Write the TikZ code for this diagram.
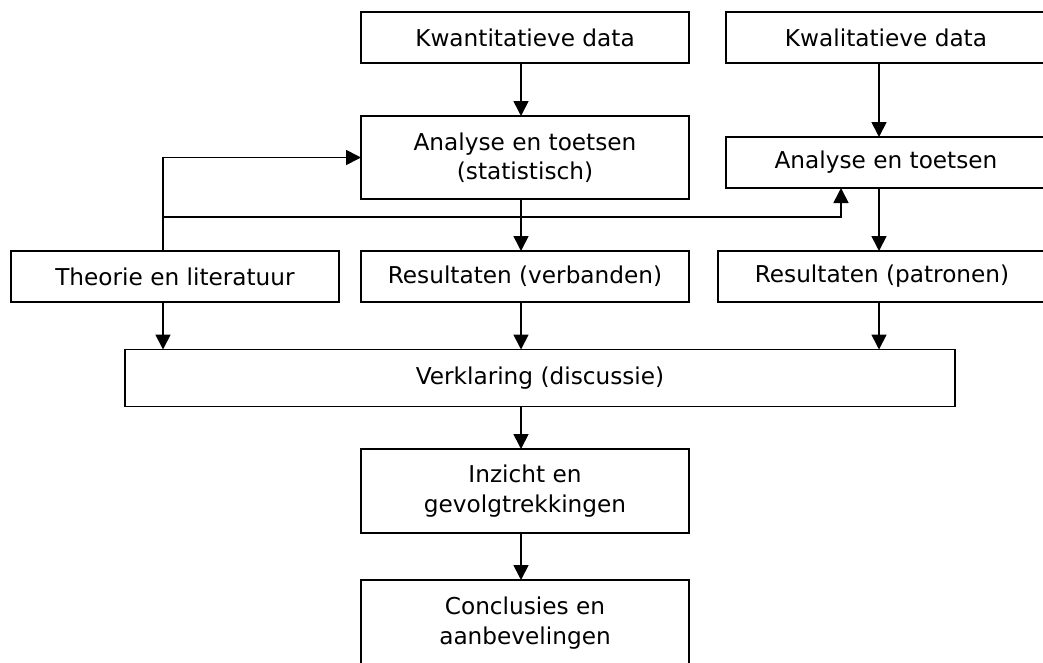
\documentclass[tikz,border=0pt]{standalone}
\usepackage{fontspec}
\setmainfont{DejaVu Sans}
\usetikzlibrary{arrows.meta}
\tikzset{
  flow diagram/.style={
    x=1pt, y=-1pt, line width=1.7pt,
    >={Triangle[length=15pt,width=15pt]},
    every node/.style={font=\fontsize{23.2}{29.5}\selectfont,
      text=black, inner sep=0pt, outer sep=0pt, align=center}
  },
  flow box/.style={draw=black, line width=1.7pt, minimum width=#1},
  flow box/.default=328pt,
  flow arrow/.style={->, draw=black}
}
\begin{document}
\begin{tikzpicture}[flow diagram]
    \useasboundingbox (0,0) rectangle (1043,662);
    \clip (0,0) rectangle (1043,662);
    % columns of the connectors
    \coordinate (colL) at (163,0);
    \coordinate (colM) at (521,0);
    \coordinate (colF) at (841,0);
    \coordinate (colR) at (879,0);
    % boxes
    \node[flow box, minimum height=51pt] (kwan) at (525,37.5) {Kwantitatieve data};
    \node[flow box=320pt, minimum height=51pt] (kwal) at (886,37.5) {Kwalitatieve data};
    \node[flow box, minimum height=83pt] (anl) at (525,157.5) {Analyse en toetsen\\(statistisch)};
    \node[flow box=320pt, minimum height=51pt] (anr) at (886,162.5) {Analyse en toetsen};
    \node[flow box, minimum height=51pt] (theo) at (175,276.5) {Theorie en literatuur};
    \node[flow box, minimum height=51pt] (resv) at (525,276.5) {Resultaten (verbanden)};
    \node[flow box, minimum height=51pt] (resp) at (882,276.5) {Resultaten (patronen)};
    \node[flow box=830pt, minimum height=57pt] (verk) at (540,378) {Verklaring (discussie)};
    \node[flow box, minimum height=84pt] (inz) at (525,491) {Inzicht en\\gevolgtrekkingen};
    \node[flow box, minimum height=86pt] (conc) at (525,623) {Conclusies en\\aanbevelingen};
    \coordinate (fb) at (163,217);
    % connectors
    \draw[flow arrow] (kwan.south -| colM) -- (anl.north -| colM);
    \draw[flow arrow] (kwal.south -| colR) -- (anr.north -| colR);
    \draw[flow arrow] (anl.south -| colM) -- (resv.north -| colM);
    \draw[flow arrow] (anr.south -| colR) -- (resp.north -| colR);
    \draw[flow arrow] (theo.north -| colL) |- (anl.west);
    \draw[flow arrow] (fb) -| (anr.south -| colF);
    \draw[flow arrow] (theo.south -| colL) -- (verk.north -| colL);
    \draw[flow arrow] (resv.south -| colM) -- (verk.north -| colM);
    \draw[flow arrow] (resp.south -| colR) -- (verk.north -| colR);
    \draw[flow arrow] (verk.south -| colM) -- (inz.north -| colM);
    \draw[flow arrow] (inz.south -| colM) -- (conc.north -| colM);
\end{tikzpicture}
\end{document}
